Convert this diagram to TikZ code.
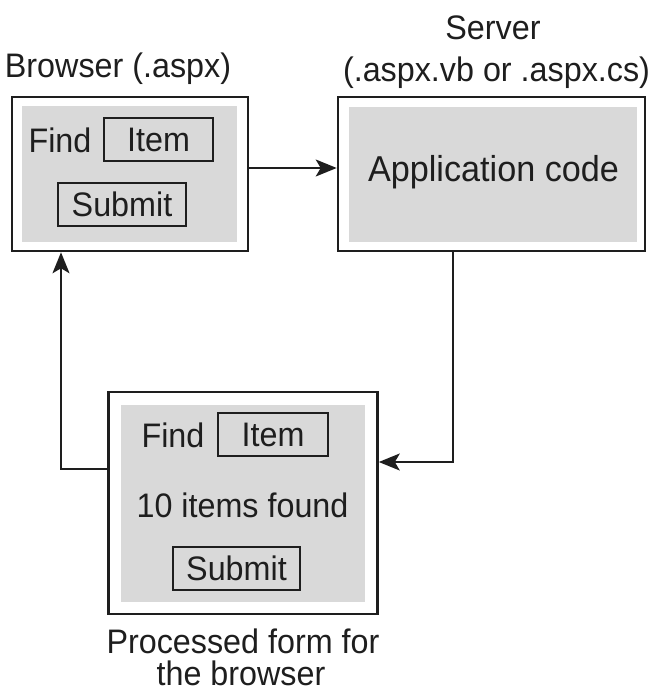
\documentclass[tikz,border=0pt]{standalone}
\usepackage{fontspec}
\setmainfont[FakeStretch=0.95]{Liberation Sans}
\usepackage{tikz}
\usepackage{xcolor}
\usetikzlibrary{arrows.meta}
\usetikzlibrary{positioning}

\definecolor{panelgray}{HTML}{D9D9D9}
\definecolor{ink}{HTML}{1E1E1E}

\begin{document}
\begin{tikzpicture}[x=1pt,y=-1pt,font=\fontsize{34}{38}\selectfont]
	\tikzstyle{frame}=[draw=ink,line width=2.6pt,fill=white,inner sep=0pt]
	\tikzstyle{panel}=[fill=panelgray,inner sep=0pt]
	\tikzstyle{field}=[draw=ink,line width=2pt,inner sep=0pt,minimum height=43pt,text=ink]
	\tikzstyle{txt}=[anchor=base,inner sep=0pt,text=ink]
	\tikzstyle{edge}=[draw=ink,line width=2pt,-{Stealth[length=21pt,width=17pt,inset=5pt]}]

	\useasboundingbox (0,0) rectangle (654,700);

	% browser page
	\node [frame,minimum width=236pt,minimum height=154pt] (browser) at (130,174) {};
	\node [panel,minimum width=215pt,minimum height=136pt] (browserin) at (129.5,174) {};
	\node [txt] (findA) at (60,153) {Find};
	\node [field,minimum width=109pt] (itemA) at (158.5,139.5) {Item};
	\node [field,minimum width=128pt] (submitA) at (122,204.5) {Submit};
	\node [txt] (browsercap) at (118,78) {Browser (.aspx)};

	% server code
	\node [frame,minimum width=307pt,minimum height=154pt] (server) at (491.5,174) {};
	\node [panel,minimum width=288pt,minimum height=135pt] (serverin) at (493,174.5) {};
	\node [txt,font=\fontsize{36}{40}\selectfont] (appcode) at (493.5,182) {Application code};
	\node [txt] (servercap) at (493,40) {Server};
	\node [txt] (servercapb) at (496.5,82) {(.aspx.vb or .aspx.cs)};

	% processed page
	\node [frame,minimum width=269pt,minimum height=222pt] (processed) at (243,503) {};
	\node [panel,minimum width=244pt,minimum height=197pt] (processedin) at (243,503.5) {};
	\node [txt] (findB) at (173,447) {Find};
	\node [field,minimum width=110pt] (itemB) at (273,434.5) {Item};
	\node [txt] (found) at (242.5,517) {10 items found};
	\node [field,minimum width=127pt] (submitB) at (236.5,568.5) {Submit};
	\node [txt] (processedcap) at (243,653) {Processed form for};
	\node [txt] (processedcapb) at (241,685) {the browser};

	\path[edge] ([yshift=6pt]browser.east) -- ([yshift=6pt]server.west);
	\path[edge] ([xshift=-38.5pt]server.south) |- ([yshift=41pt]processed.east);
	\path[edge] ([yshift=34pt]processed.west) -| ([xshift=-69pt]browser.south);

\end{tikzpicture}
\end{document}
